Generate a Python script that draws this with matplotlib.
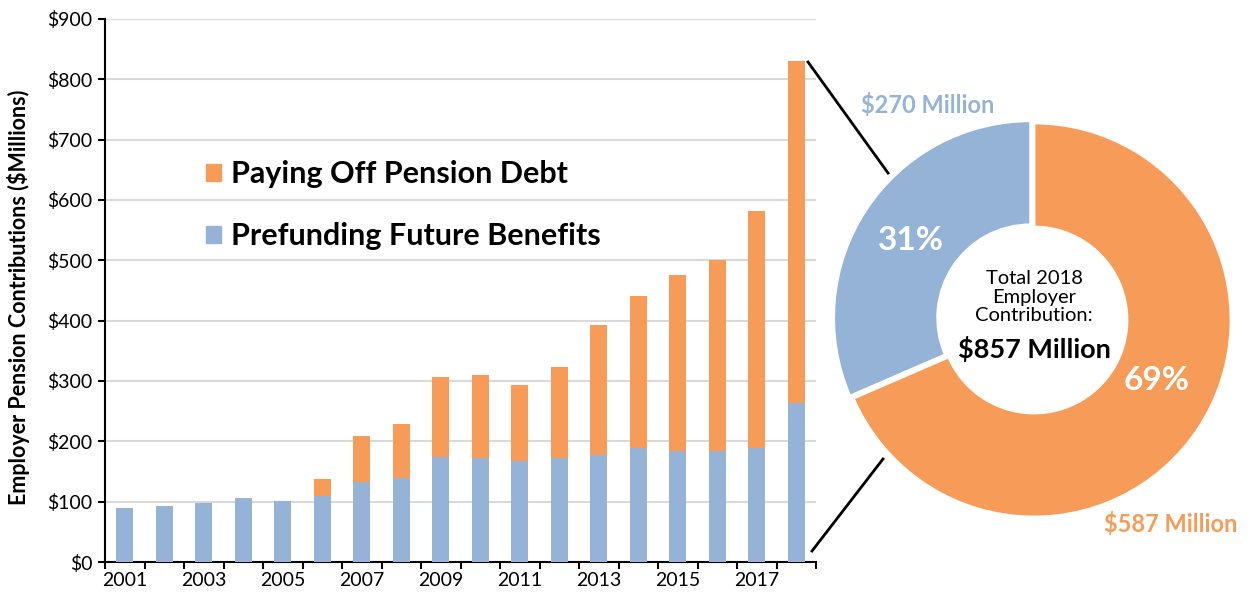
import numpy as np
import matplotlib
matplotlib.use("Agg")
import matplotlib.pyplot as plt
from matplotlib.patches import Patch
from matplotlib.lines import Line2D

plt.rcParams['font.family'] = ['Lato', 'DejaVu Sans']

## Data
years = list(range(2001, 2019))
prefunding = [90, 93, 98, 106, 101, 110, 132, 139, 174, 172, 167, 172, 177, 189, 184, 184, 189, 263]
totals = [90, 93, 98, 106, 101, 137, 209, 229, 307, 310, 293, 324, 392, 441, 476, 501, 582, 831]
debt = [t - p for t, p in zip(totals, prefunding)]

pie_labels = ['Prefunding Future Benefits', 'Paying Off Pension Debt']
pie_values = [270, 587]
pie_pcts = ['31%', '69%']
pie_total = 857

orange = '#F79C58'
blue = '#95B3D7'

W, H = 1249, 600
fig = plt.figure(figsize=(W / 100, H / 100), dpi=100)

## Stacked bars
ax = fig.add_axes([105 / W, 1 - 562 / H, (816 - 105) / W, (562 - 19) / H])
x = np.arange(len(years))
bars_blue = ax.bar(x, prefunding, width=0.42, color=blue, zorder=3)
bars_orange = ax.bar(x, debt, bottom=prefunding, width=0.42, color=orange, zorder=3)

ax.set_xlim(-0.5, len(years) - 0.5)
ax.set_ylim(0, 900)
ax.set_yticks(range(0, 901, 100))
ax.set_yticklabels(['$%d' % v for v in range(0, 901, 100)], fontsize=14)
ax.set_xticks(x[::2])
ax.set_xticklabels([str(y) for y in years[::2]], fontsize=14)
ax.set_xticks(np.arange(-0.5, len(years), 1), minor=True)
ax.tick_params(axis='x', which='major', length=0, pad=7)
ax.tick_params(axis='x', which='minor', length=5, width=1.5, direction='out')
ax.tick_params(axis='y', length=5, width=1.5, direction='out', pad=4)
ax.grid(axis='y', color='#d9d9d9', linewidth=1.5, zorder=0)
for s in ['top', 'right']:
    ax.spines[s].set_visible(False)
for s in ['left', 'bottom']:
    ax.spines[s].set_linewidth(1.5)
ax.set_ylabel('Employer Pension Contributions ($Millions)', fontsize=15.5,
              fontweight='bold')
ax.yaxis.set_label_coords(-0.106, 0.488)

handles = [Patch(color=orange, label='Paying Off Pension Debt'),
           Patch(color=blue, label='Prefunding Future Benefits')]
ax.legend(handles=handles, loc='upper left', bbox_to_anchor=(0.125, 0.762),
          frameon=False, prop={'size': 22, 'weight': 'bold'},
          handlelength=0.5, handleheight=0.5, handletextpad=0.3,
          labelspacing=1.1, borderaxespad=0)

## Donut
R = 210
cx, cy = 1034, 320
pax = fig.add_axes([(cx - R) / W, 1 - (cy + R) / H, 2 * R / W, 2 * R / H])
wedges, _ = pax.pie(pie_values, colors=[blue, orange], startangle=90,
                    counterclock=True, radius=197, explode=[4, 0],
                    wedgeprops=dict(width=104, edgecolor='white', linewidth=2),
                    frame=True)
pax.set_xlim(-R, R)
pax.set_ylim(-R, R)
pax.axis('off')

pax.text(911 - cx, cy - 240, pie_pcts[0], color='white', fontsize=24,
         fontweight='bold', ha='center', va='center')
pax.text(1157 - cx, cy - 380, pie_pcts[1], color='white', fontsize=24,
         fontweight='bold', ha='center', va='center')

pax.text(0, cy - 297, 'Total 2018\nEmployer\nContribution:', fontsize=14.5,
         ha='center', va='center', linespacing=1.1)
pax.text(0, cy - 349, '$%d Million' % pie_total, fontsize=19.5, fontweight='bold',
         ha='center', va='center')

fig.text(928 / W, 1 - 105 / H, '$%d Million' % pie_values[0], color=blue,
         fontsize=17, fontweight='bold', ha='center', va='center')
fig.text(1171 / W, 1 - 524 / H, '$%d Million' % pie_values[1], color=orange,
         fontsize=17, fontweight='bold', ha='center', va='center')

## Connector lines from the 2018 bar to the donut
fig.add_artist(Line2D([808 / W, 888 / W], [1 - 62 / H, 1 - 173 / H],
                      color='black', linewidth=2))
fig.add_artist(Line2D([812 / W, 883 / W], [1 - 551 / H, 1 - 459 / H],
                      color='black', linewidth=2))

fig.savefig('out.png', dpi=100)
